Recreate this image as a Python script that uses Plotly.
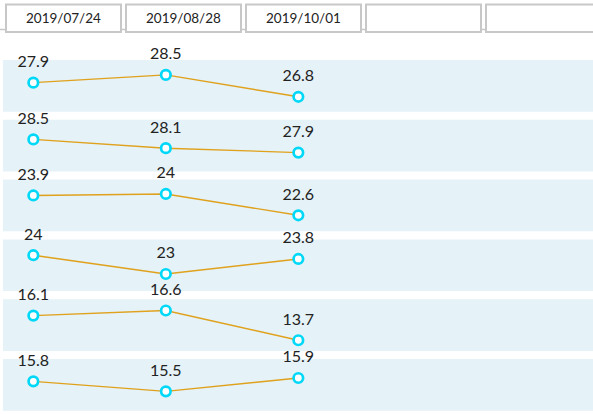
import plotly.graph_objects as go

dates = ["2019/07/24", "2019/08/28", "2019/10/01"]
header_labels = ["2019/07/24", "2019/08/28", "2019/10/01", "", ""]
rows = [
    [27.9, 28.5, 26.8],
    [28.5, 28.1, 27.9],
    [23.9, 24.0, 22.6],
    [24.0, 23.0, 23.8],
    [16.1, 16.6, 13.7],
    [15.8, 15.5, 15.9],
]
y_ranges = [
    [25.64, 29.66],
    [27.04, 29.39],
    [21.55, 24.94],
    [22.09, 24.84],
    [12.66, 17.70],
    [14.92, 16.47],
]

W, H = 593, 414
L = 3
band_top0, band_pitch, band_h = 60.0, 59.8, 51.7

LINE_COLOR = "#E0A11C"
MARK_COLOR = "#00D8F8"
BAND_COLOR = "#E5F2F7"

fig = go.Figure()
layout = dict(
    width=W, height=H,
    margin=dict(l=L, r=0, t=0, b=0),
    paper_bgcolor="white", plot_bgcolor="white",
    showlegend=False,
    font=dict(family="Lato", color="#222"),
    xaxis=dict(type="category", range=[-0.229, 4.224], visible=False, fixedrange=True),
)
shapes = []
for i, vals in enumerate(rows):
    top = band_top0 + i * band_pitch
    bot = top + band_h
    dom = [1 - bot / H, 1 - top / H]
    yname = "yaxis" if i == 0 else f"yaxis{i+1}"
    yref = "y" if i == 0 else f"y{i+1}"
    layout[yname] = dict(domain=dom, range=y_ranges[i], visible=False, fixedrange=True,
                         anchor="x")
    shapes.append(dict(type="rect", xref="paper", yref="paper", x0=0, x1=1.01,
                       y0=dom[0], y1=dom[1], fillcolor=BAND_COLOR, line=dict(width=0),
                       layer="below"))
    fig.add_trace(go.Scatter(
        x=dates, y=vals, yaxis=yref, xaxis="x",
        mode="lines+markers",
        cliponaxis=False,
        line=dict(color=LINE_COLOR, width=1.4),
        marker=dict(symbol="circle", size=9.5, color="white",
                    line=dict(color=MARK_COLOR, width=2.7)),
        hoverinfo="skip",
    ))
    fig.add_trace(go.Scatter(
        x=dates, y=vals, yaxis=yref, xaxis="x",
        mode="markers+text",
        text=[f"{v:g}" for v in vals],
        textposition="top center",
        textfont=dict(family="Lato", size=16, color="#222"),
        cliponaxis=False,
        marker=dict(size=17, color="rgba(0,0,0,0)"),
        hoverinfo="skip",
    ))

# header strip
def px_x(px):
    return (px - L) / (W - L)

def px_y(px):
    return 1 - px / H

shapes.append(dict(type="line", xref="paper", yref="paper", x0=px_x(0), x1=px_x(W),
                   y0=px_y(29.5), y1=px_y(29.5), line=dict(color="#C8C8C8", width=1.5)))
annotations = []
for k, lab in enumerate(header_labels):
    x0 = 6 + k * 120
    x1 = x0 + 115
    shapes.append(dict(type="rect", xref="paper", yref="paper",
                       x0=px_x(x0), x1=px_x(x1), y0=px_y(32), y1=px_y(4.5),
                       fillcolor="white", line=dict(color="#C8C8C8", width=2)))
    if lab:
        annotations.append(dict(xref="paper", yref="paper", x=px_x((x0 + x1) / 2),
                                y=px_y(18.5), text=lab, showarrow=False,
                                font=dict(family="Lato", size=13.5, color="#222"),
                                xanchor="center", yanchor="middle"))

layout["shapes"] = shapes
layout["annotations"] = annotations
fig.update_layout(**layout)
fig.write_html("out.html", config={"displayModeBar": False, "staticPlot": True},
               post_script="document.body.style.margin='0';")
